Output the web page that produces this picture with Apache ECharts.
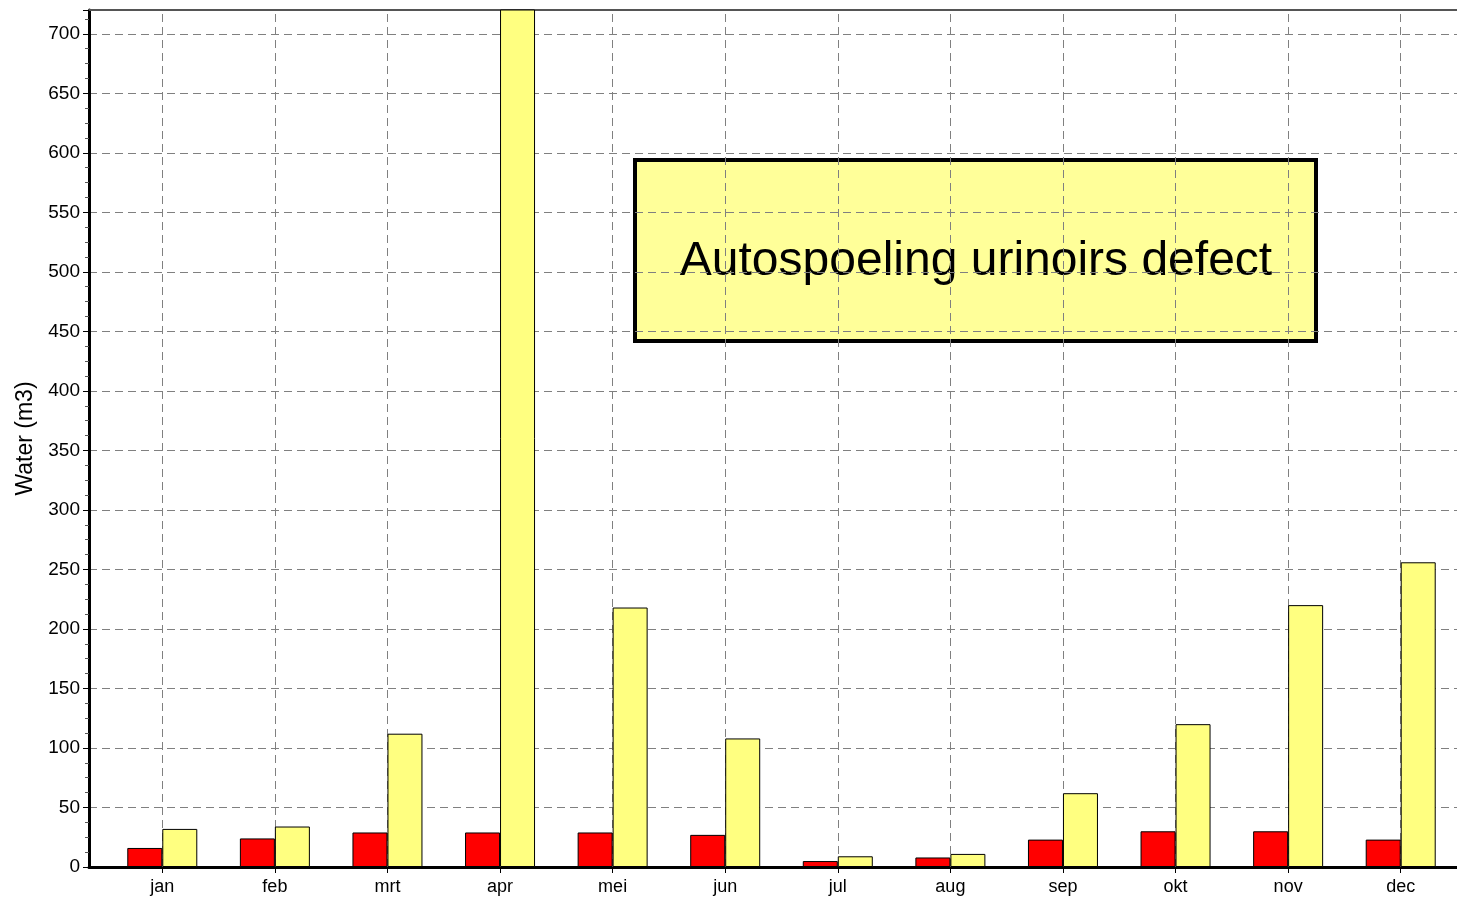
<!DOCTYPE html>
<html lang="nl">
<head>
    <meta charset="UTF-8">
    <script src="https://cdn.jsdelivr.net/npm/echarts@6/dist/echarts.min.js"></script>
    <title>Water (m3)</title>
    <style>
        body { margin: 0; background: #ffffff; }
        #chart { width: 1457px; height: 900px; }
    </style>
</head>
<body>
    <div id="chart"></div>
    <script>
        var months = ['jan', 'feb', 'mrt', 'apr', 'mei', 'jun', 'jul', 'aug', 'sep', 'okt', 'nov', 'dec'];
        var redValues = [16, 24, 29, 29, 29, 27, 5, 8, 23, 30, 30, 23];
        var yellowValues = [32, 34, 112, 800, 218, 108, 9, 11, 62, 120, 220, 256];
        var yMax = 720;
        var yStep = 50;
        var note = 'Autospoeling urinoirs defect';

        var font = '"Liberation Sans", Arial, sans-serif';
        var dashed = { color: '#808080', width: 1, type: [8, 5] };

        var chart = echarts.init(document.getElementById('chart'));

        var option = {
            backgroundColor: '#ffffff',
            animation: false,
            textStyle: { fontFamily: font },
            grid: [
                // frame + horizontal grid lines
                { left: 89, right: 0, top: 10, bottom: 33 },
                // bars, category centres offset from the y axis
                { left: 106, right: -2, top: 10, bottom: 33 }
            ],
            xAxis: [
                {
                    gridIndex: 0, type: 'value', min: 0, max: 1, position: 'bottom',
                    axisLine: { show: true, onZero: false, lineStyle: { color: '#000', width: 3 } },
                    axisTick: { show: false }, axisLabel: { show: false }, splitLine: { show: false }
                },
                {
                    gridIndex: 1, type: 'category', data: months, position: 'bottom',
                    axisLine: { show: false },
                    axisTick: { show: true, alignWithLabel: true, length: 6, lineStyle: { color: '#000' } },
                    axisLabel: { color: '#000', fontSize: 18, margin: 11, fontFamily: font },
                    splitLine: { show: false }
                },
                {
                    gridIndex: 0, type: 'value', min: 0, max: 1, position: 'top',
                    axisLine: { show: true, onZero: false, lineStyle: { color: '#555', width: 2 } },
                    axisTick: { show: false }, axisLabel: { show: false }, splitLine: { show: false }
                }
            ],
            yAxis: [
                {
                    gridIndex: 0, type: 'value', min: 0, max: yMax, interval: yStep,
                    name: 'Water (m3)', nameLocation: 'middle', nameGap: 52,
                    nameTextStyle: { color: '#000', fontSize: 23, fontFamily: font },
                    axisLine: { show: true, lineStyle: { color: '#000', width: 3 } },
                    axisTick: { show: true, length: 6, lineStyle: { color: '#000' } },
                    minorTick: { show: true, splitNumber: 4, length: 4, lineStyle: { color: '#555' } },
                    axisLabel: { color: '#000', fontSize: 19, margin: 9, showMaxLabel: false, fontFamily: font },
                    splitLine: { show: true, lineStyle: dashed }
                },
                { gridIndex: 1, type: 'value', min: 0, max: yMax, show: false }
            ],
            series: [
                {
                    // vertical grid lines through the month centres
                    type: 'line',
                    xAxisIndex: 1, yAxisIndex: 1,
                    data: [],
                    silent: true,
                    markLine: {
                        silent: true, symbol: 'none', z: 1,
                        label: { show: false },
                        lineStyle: dashed,
                        data: months.map(function (m) { return { xAxis: m }; })
                    }
                },
                {
                    name: 'red',
                    type: 'bar',
                    xAxisIndex: 1, yAxisIndex: 1,
                    data: redValues,
                    barWidth: 35,
                    barGap: '0%',
                    z: 3,
                    itemStyle: { color: '#ff0000', borderColor: '#000', borderWidth: 1 }
                },
                {
                    name: 'yellow',
                    type: 'bar',
                    xAxisIndex: 1, yAxisIndex: 1,
                    data: yellowValues,
                    barWidth: 35,
                    barGap: '0%',
                    clip: true,
                    z: 3,
                    itemStyle: { color: '#ffff80', borderColor: '#000', borderWidth: 1 }
                }
            ],
            graphic: [
                {
                    type: 'group', z: 100,
                    children: [
                        {
                            type: 'rect',
                            shape: { x: 635, y: 160, width: 681, height: 181 },
                            style: { fill: '#ffff99', stroke: '#000', lineWidth: 4 }
                        },
                        {
                            type: 'text',
                            x: 976, y: 262,
                            style: {
                                text: note, fill: '#000', font: '48px ' + font,
                                align: 'center', verticalAlign: 'middle'
                            }
                        }
                    ]
                }
            ]
        };

        chart.setOption(option);
    </script>
</body>
</html>
